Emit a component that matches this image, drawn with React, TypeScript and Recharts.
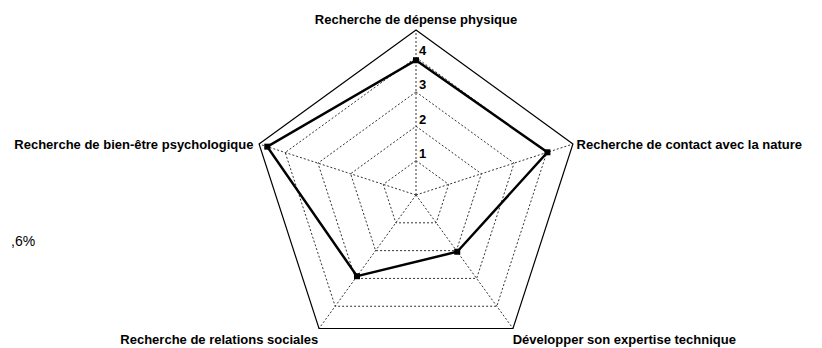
import { RadarChart, Radar, PolarGrid, PolarAngleAxis, PolarRadiusAxis } from 'recharts';

// axes, clockwise from the top
const categories = [
  'Recherche de dépense physique',
  'Recherche de contact avec la nature',
  'Développer son expertise technique',
  'Recherche de relations sociales',
  'Recherche de bien-être psychologique',
];
const scores = [3.92, 4.02, 2.04, 2.92, 4.55];
const radiusTicks = [1, 2, 3, 4];
const axisMax = 4.8;

const data = categories.map((c, i) => ({ axis: c, score: scores[i], frame: axisMax }));

const FONT = '"Liberation Sans", Arial, sans-serif';

const AngleTick = (props: any) => {
  const { x, y, textAnchor, payload } = props;
  let dx = 0;
  let dy = 0;
  if (textAnchor === 'middle') {
    dy = -3;
  } else if (y > 250) {
    dx = textAnchor === 'start' ? -5 : 4;
    dy = 5;
  } else {
    dx = textAnchor === 'start' ? -4 : 2;
    dy = 3;
  }
  return (
    <text
      x={x + dx}
      y={y + dy}
      textAnchor={textAnchor}
      dominantBaseline="central"
      fontFamily={FONT}
      fontSize={13}
      fontWeight="bold"
      fill="#000"
    >
      {payload.value}
    </text>
  );
};

const RadiusTick = (props: any) => {
  const { x, y, payload } = props;
  return (
    <text x={x + 3} y={y - 7} textAnchor="start" dominantBaseline="central" fontFamily={FONT} fontSize={13} fontWeight="bold" fill="#000">
      {payload.value}
    </text>
  );
};

const SquareDot = (props: any) => {
  const { cx, cy } = props;
  return <rect x={cx - 3} y={cy - 3} width={6} height={6} fill="#000" />;
};

export default function App() {
  return (
    <div style={{ position: 'fixed', left: 0, top: 0, width: 822, height: 348, background: '#fff' }}>
      <div style={{ position: 'absolute', left: 11, top: 233, fontFamily: FONT, fontSize: 14, color: '#000' }}>,6%</div>
      <RadarChart width={822} height={348} data={data} cx={416} cy={195} outerRadius={165}>
        <PolarGrid gridType="polygon" stroke="#333" strokeDasharray="2 2" />
        <PolarAngleAxis dataKey="axis" tick={<AngleTick />} tickLine={false} axisLine={false} />
        <PolarRadiusAxis
          angle={90}
          type="number"
          domain={[0, axisMax]}
          allowDataOverflow
          tickCount={0}
          ticks={radiusTicks}
          tick={<RadiusTick />}
          axisLine={false}
          tickLine={false}
        />
        <Radar dataKey="frame" stroke="#000" strokeWidth={1.2} fill="none" dot={false} isAnimationActive={false} />
        <Radar dataKey="score" stroke="#000" strokeWidth={2.5} fill="none" dot={<SquareDot />} isAnimationActive={false} />
      </RadarChart>
    </div>
  );
}
